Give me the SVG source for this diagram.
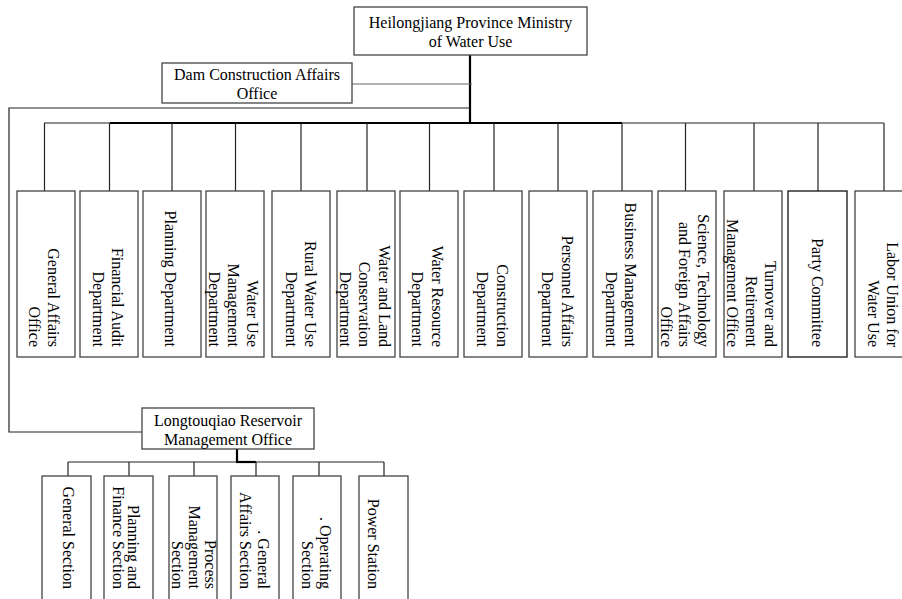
<svg xmlns="http://www.w3.org/2000/svg" width="902" height="599" viewBox="0 0 902 599">
<style>
.box{fill:#fff;stroke:#444;stroke-width:1.3}
.t{font-family:"Liberation Serif","Times New Roman",serif;font-size:16px;fill:#000}
.h{text-anchor:middle}
.v{text-anchor:end}
.c{fill:none;stroke:#222;stroke-width:1.2}
.k{fill:none;stroke:#000;stroke-width:2.2}
.g{fill:none;stroke:#666;stroke-width:1.2}
</style>
<rect width="902" height="599" fill="#fff"/>
<g id="connectors">
<line class="k" x1="470" y1="55" x2="470" y2="124"/>
<line class="g" x1="352" y1="84" x2="472" y2="84"/>
<polyline class="c" points="470,108 9,108 9,432 142,432"/>
<line class="c" x1="44" y1="123" x2="884" y2="123"/>
<line class="k" x1="110" y1="123" x2="622" y2="123"/>
<g class="c">
<line x1="44.5" y1="123" x2="44.5" y2="191"/>
<line x1="109.5" y1="123" x2="109.5" y2="191"/>
<line x1="172" y1="123" x2="172" y2="191"/>
<line x1="235.5" y1="123" x2="235.5" y2="191"/>
<line x1="301" y1="123" x2="301" y2="191"/>
<line x1="367" y1="123" x2="367" y2="191"/>
<line x1="429.5" y1="123" x2="429.5" y2="191"/>
<line x1="494" y1="123" x2="494" y2="191"/>
<line x1="558" y1="123" x2="558" y2="191"/>
<line x1="622" y1="123" x2="622" y2="191"/>
<line x1="685.5" y1="123" x2="685.5" y2="191"/>
<line x1="754" y1="123" x2="754" y2="191"/>
<line x1="818" y1="123" x2="818" y2="191"/>
<line x1="884" y1="123" x2="884" y2="191"/>
</g>
<line class="k" x1="237" y1="449" x2="237" y2="462"/>
<line class="c" x1="68" y1="462" x2="384" y2="462"/>
<line class="k" x1="236" y1="462" x2="256" y2="462"/>
<g class="c">
<line x1="68" y1="462" x2="68" y2="476"/>
<line x1="129" y1="462" x2="129" y2="476"/>
<line x1="194" y1="462" x2="194" y2="476"/>
<line x1="256" y1="462" x2="256" y2="476"/>
<line x1="319" y1="462" x2="319" y2="476"/>
<line x1="384" y1="462" x2="384" y2="476"/>
</g>
</g>
<g id="ministry"><rect class="box" x="354" y="7" width="233" height="48"/>
<text class="t h" x="470.5" y="28">Heilongjiang Province Ministry</text><text class="t h" x="470.5" y="47">of Water Use</text></g>
<g id="dam"><rect class="box" x="162" y="63" width="190" height="40"/>
<text class="t h" x="257" y="80">Dam Construction Affairs</text><text class="t h" x="257" y="99">Office</text></g>
<g id="d1"><rect class="box" x="17" y="191" width="58" height="166"/>
<text class="t v" transform="translate(47.5,347) rotate(90)"><tspan x="0" y="0">General Affairs</tspan><tspan x="0" y="19">Office</tspan></text></g>
<g id="d2"><rect class="box" x="80" y="191" width="58" height="166"/>
<text class="t v" transform="translate(111.5,347) rotate(90)"><tspan x="0" y="0">Financial Audit</tspan><tspan x="0" y="18.5">Department</tspan></text></g>
<g id="d3"><rect class="box" x="143" y="191" width="58" height="166"/>
<text class="t v" transform="translate(165,347) rotate(90)">Planning Department</text></g>
<g id="d4"><rect class="box" x="206" y="191" width="58" height="166"/>
<text class="t v" transform="translate(246.5,347) rotate(90)"><tspan x="0" y="0">Water Use</tspan><tspan x="0" y="19">Management</tspan><tspan x="0" y="38">Department</tspan></text></g>
<g id="d5"><rect class="box" x="272" y="191" width="58" height="166"/>
<text class="t v" transform="translate(304.5,347) rotate(90)"><tspan x="0" y="0">Rural Water Use</tspan><tspan x="0" y="19">Department</tspan></text></g>
<g id="d6"><rect class="box" x="337" y="191" width="58" height="166"/>
<text class="t v" transform="translate(378.5,347) rotate(90)"><tspan x="0" y="0">Water and Land</tspan><tspan x="0" y="19.5">Conservation</tspan><tspan x="0" y="39">Department</tspan></text></g>
<g id="d7"><rect class="box" x="400" y="191" width="58" height="166"/>
<text class="t v" transform="translate(431.5,347) rotate(90)"><tspan x="0" y="0">Water Resource</tspan><tspan x="0" y="19.5">Department</tspan></text></g>
<g id="d8"><rect class="box" x="464" y="191" width="58" height="166"/>
<text class="t v" transform="translate(496.5,347) rotate(90)"><tspan x="0" y="0">Construction</tspan><tspan x="0" y="19.5">Department</tspan></text></g>
<g id="d9"><rect class="box" x="529" y="191" width="58" height="166"/>
<text class="t v" transform="translate(561.5,347) rotate(90)"><tspan x="0" y="0">Personnel Affairs</tspan><tspan x="0" y="19.5">Department</tspan></text></g>
<g id="d10"><rect class="box" x="593" y="191" width="59" height="166"/>
<text class="t v" transform="translate(624.5,347) rotate(90)"><tspan x="0" y="0">Business Management</tspan><tspan x="0" y="18.5">Department</tspan></text></g>
<g id="d11"><rect class="box" x="658" y="191" width="58" height="166"/>
<text class="t v" transform="translate(697.5,347) rotate(90)"><tspan x="0" y="0">Science, Technology</tspan><tspan x="0" y="18.5">and Foreign Affairs</tspan><tspan x="0" y="37">Office</tspan></text></g>
<g id="d12"><rect class="box" x="724" y="191" width="58" height="166"/>
<text class="t v" transform="translate(764.5,347) rotate(90)"><tspan x="0" y="0">Turnover and</tspan><tspan x="0" y="18.5">Retirement</tspan><tspan x="0" y="38">Management Office</tspan></text></g>
<g id="d13"><rect class="box" x="788" y="191" width="59" height="166" style="stroke:#111"/>
<text class="t v" transform="translate(811.5,347) rotate(90)">Party Committee</text></g>
<g id="d14"><rect class="box" x="855" y="191" width="58" height="166"/>
<text class="t v" transform="translate(886.5,347) rotate(90)"><tspan x="0" y="0">Labor Union for</tspan><tspan x="0" y="19">Water Use</tspan></text></g>
<g id="longtouqiao"><rect class="box" x="142" y="408" width="172" height="41"/>
<text class="t h" x="228" y="426">Longtouqiao Reservoir</text><text class="t h" x="228" y="445">Management Office</text></g>
<g id="s1"><rect class="box" x="42" y="476" width="49" height="140"/>
<text class="t v" transform="translate(62.5,589) rotate(90)">General Section</text></g>
<g id="s2"><rect class="box" x="104" y="476" width="49" height="140"/>
<text class="t v" transform="translate(128,589) rotate(90)"><tspan x="0" y="0">Planning and</tspan><tspan x="0" y="15">Finance Section</tspan></text></g>
<g id="s3"><rect class="box" x="169" y="476" width="48" height="140"/>
<text class="t v" transform="translate(204.5,589) rotate(90)"><tspan x="0" y="0">Process</tspan><tspan x="0" y="15.5">Management</tspan><tspan x="0" y="33">Section</tspan></text></g>
<g id="s4"><rect class="box" x="231" y="476" width="48" height="140"/>
<text class="t v" transform="translate(257.5,589) rotate(90)"><tspan x="0" y="0">. General</tspan><tspan x="0" y="18">Affairs Section</tspan></text></g>
<g id="s5"><rect class="box" x="293" y="476" width="48" height="140"/>
<text class="t v" transform="translate(319.5,589) rotate(90)"><tspan x="0" y="0">. Operating</tspan><tspan x="0" y="18">Section</tspan></text></g>
<g id="s6"><rect class="box" x="359" y="476" width="49" height="140"/>
<text class="t v" transform="translate(367.5,589) rotate(90)">Power Station</text></g>
</svg>
